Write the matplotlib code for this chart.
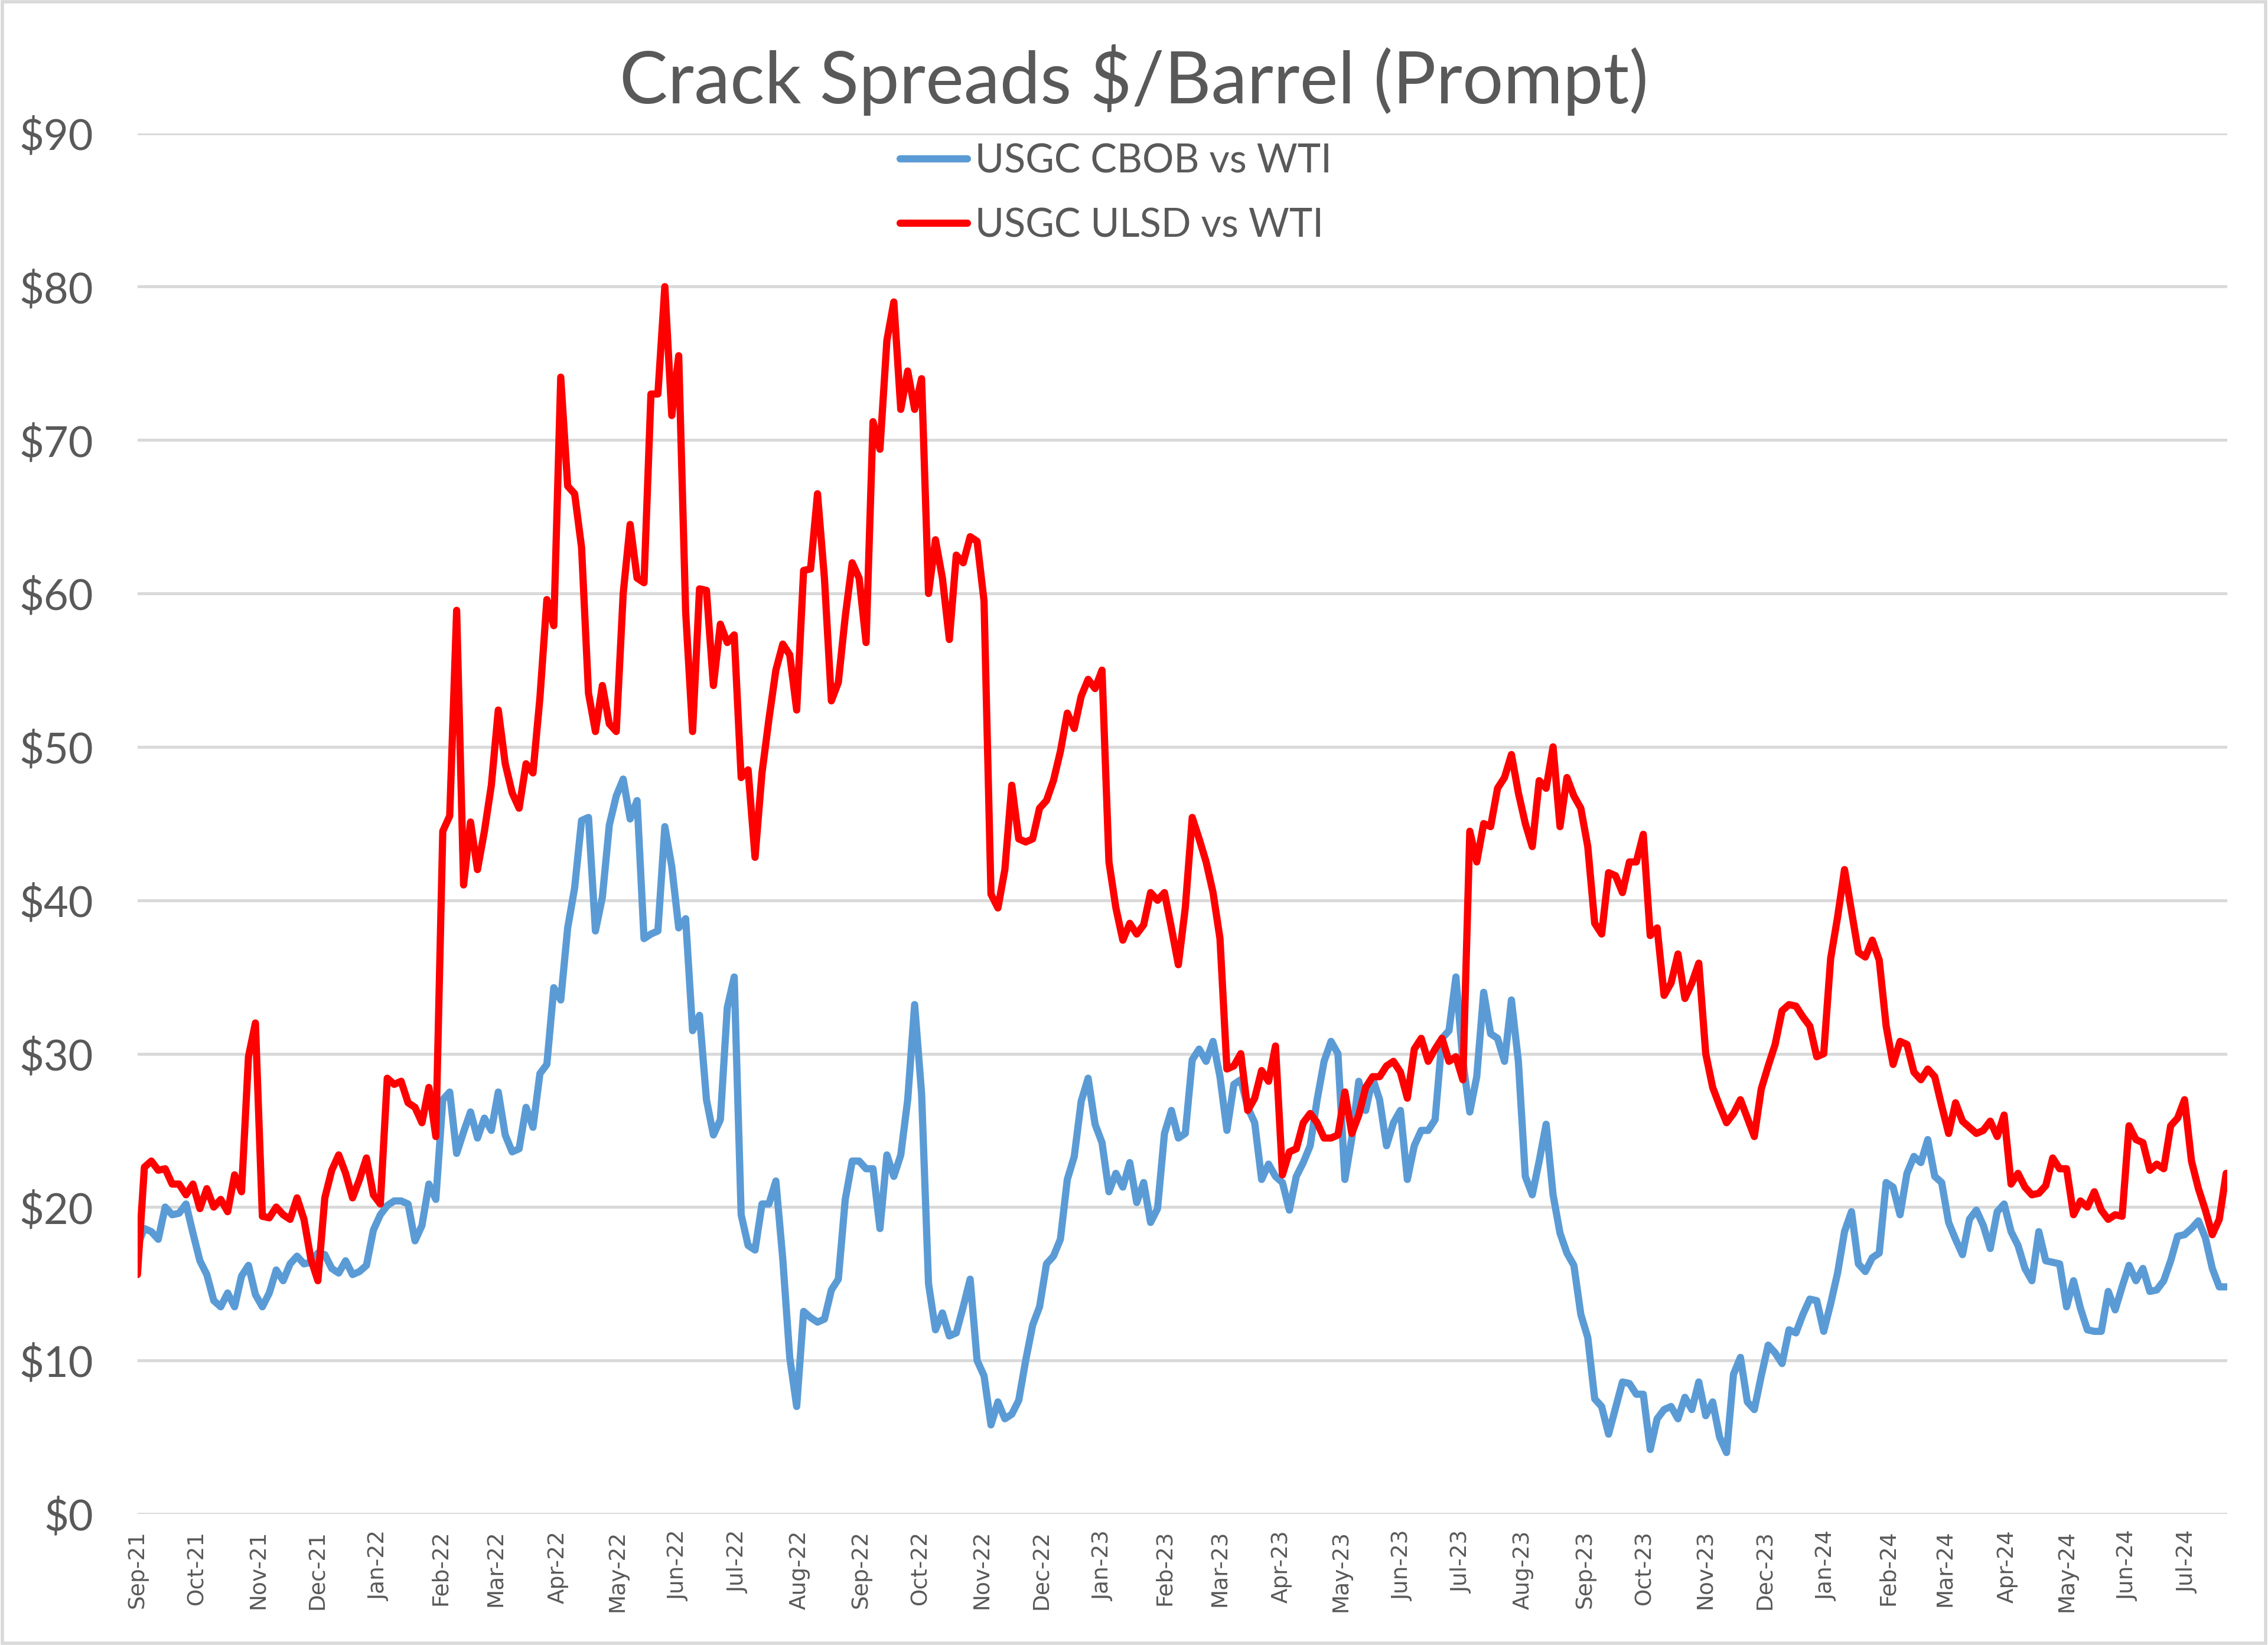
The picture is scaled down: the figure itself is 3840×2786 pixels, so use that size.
import pandas as pd
import matplotlib
matplotlib.use("Agg")
import matplotlib.pyplot as plt
import matplotlib.dates as mdates
from matplotlib.patches import Rectangle

# half-weekly samples, Sep-21 .. Jul-24
dates = pd.date_range("2021-09-01", periods=302, freq="84h")

cbob = [
    17.5, 18.6, 18.4, 17.9, 20.0, 19.5, 19.6, 20.2, 18.3, 16.5,   # Sep-21
    15.6, 13.9, 13.5, 14.4, 13.5, 15.5, 16.2, 14.3, 13.5, 14.4,
    15.9, 15.2, 16.3, 16.8, 16.3, 16.4, 17.0, 16.9, 16.0, 15.7,
    16.5, 15.6, 15.8, 16.2, 18.5, 19.5, 20.1, 20.4, 20.4, 20.2,   # Jan-22
    17.8, 18.8, 21.5, 20.5, 27.0, 27.5, 23.5, 24.9, 26.2, 24.5,
    25.8, 25.0, 27.5, 24.7, 23.6, 23.8, 26.5, 25.2, 28.7, 29.3,
    34.3, 33.5, 38.2, 40.8, 45.2, 45.4, 38.0, 40.2, 44.9, 46.8,   # Apr-22
    47.9, 45.3, 46.5, 37.5, 37.8, 38.0, 44.8, 42.2, 38.2, 38.8,
    31.5, 32.5, 27.0, 24.7, 25.7, 33.0, 35.0, 19.5, 17.5, 17.2,
    20.2, 20.2, 21.7, 16.6, 10.2, 7.0, 13.2, 12.8, 12.5, 12.7,    # Aug-22
    14.6, 15.3, 20.5, 23.0, 23.0, 22.5, 22.5, 18.6, 23.4, 22.0,
    23.4, 27.0, 33.2, 27.4, 15.0, 12.0, 13.1, 11.6, 11.8, 13.5,
    15.3, 10.0, 9.0, 5.8, 7.3, 6.2, 6.5, 7.4, 10.0, 12.3,         # Nov-22
    13.5, 16.3, 16.8, 17.9, 21.8, 23.3, 26.9, 28.4, 25.4, 24.2,
    21.0, 22.2, 21.3, 22.9, 20.3, 21.6, 19.0, 19.9, 24.8, 26.3,
    24.5, 24.8, 29.6, 30.3, 29.5, 30.8, 28.5, 25.0, 28.0, 28.3,   # Mar-23
    26.5, 25.5, 21.8, 22.8, 22.0, 21.6, 19.8, 22.0, 22.9, 24.0,
    27.0, 29.5, 30.8, 30.0, 21.8, 24.5, 28.2, 26.3, 28.4, 27.0,
    24.0, 25.5, 26.3, 21.8, 24.0, 25.0, 25.0, 25.7, 31.0, 31.5,   # Jun-23
    35.0, 29.5, 26.2, 28.5, 34.0, 31.3, 31.0, 29.5, 33.5, 29.5,
    22.0, 20.8, 23.0, 25.4, 20.8, 18.3, 17.0, 16.2, 13.0, 11.5,
    7.5, 7.0, 5.2, 6.9, 8.6, 8.5, 7.8, 7.8, 4.2, 6.2,             # Sep-23
    6.8, 7.0, 6.2, 7.6, 6.8, 8.6, 6.4, 7.3, 5.0, 4.0,
    9.1, 10.2, 7.3, 6.8, 9.0, 11.0, 10.5, 9.8, 12.0, 11.8,
    13.0, 14.0, 13.9, 11.9, 13.7, 15.7, 18.4, 19.7, 16.3, 15.8,   # Dec-23
    16.7, 17.0, 21.6, 21.3, 19.5, 22.2, 23.3, 22.9, 24.4, 22.0,
    21.6, 19.0, 17.9, 16.9, 19.2, 19.8, 18.8, 17.3, 19.7, 20.2,
    18.4, 17.5, 16.0, 15.2, 18.4, 16.5, 16.4, 16.3, 13.5, 15.2,   # Apr-24
    13.4, 12.0, 11.9, 11.9, 14.5, 13.3, 14.8, 16.2, 15.2, 16.0,
    14.5, 14.6, 15.2, 16.5, 18.1, 18.2, 18.6, 19.1, 18.0, 16.0,
    14.8, 14.8,
]

ulsd = [
    15.6, 22.6, 23.0, 22.4, 22.5, 21.5, 21.5, 20.8, 21.5, 19.9,   # Sep-21
    21.2, 20.0, 20.5, 19.7, 22.1, 21.0, 29.8, 32.0, 19.4, 19.3,
    20.0, 19.5, 19.2, 20.6, 19.2, 16.6, 15.2, 20.6, 22.4, 23.4,
    22.2, 20.6, 21.8, 23.2, 20.8, 20.2, 28.4, 28.0, 28.2, 26.8,   # Jan-22
    26.5, 25.5, 27.8, 24.6, 44.5, 45.5, 58.9, 41.0, 45.1, 42.0,
    44.5, 47.5, 52.4, 48.9, 47.0, 46.0, 48.9, 48.3, 53.2, 59.6,
    57.9, 74.1, 67.0, 66.5, 63.0, 53.5, 51.0, 54.0, 51.5, 51.0,   # Apr-22
    60.0, 64.5, 61.0, 60.7, 73.0, 73.0, 80.0, 71.6, 75.5, 58.8,
    51.0, 60.3, 60.2, 54.0, 58.0, 56.8, 57.3, 48.0, 48.5, 42.8,
    48.3, 51.8, 55.0, 56.7, 56.0, 52.4, 61.5, 61.6, 66.5, 61.0,   # Aug-22
    53.0, 54.2, 58.5, 62.0, 61.0, 56.8, 71.2, 69.4, 76.5, 79.0,
    72.0, 74.5, 72.0, 74.0, 60.0, 63.5, 61.0, 57.0, 62.5, 62.0,
    63.7, 63.4, 59.5, 40.4, 39.5, 42.0, 47.5, 44.0, 43.8, 44.0,   # Nov-22
    46.0, 46.5, 47.8, 49.7, 52.2, 51.2, 53.3, 54.4, 53.8, 55.0,
    42.5, 39.5, 37.4, 38.5, 37.8, 38.4, 40.5, 40.0, 40.5, 38.2,
    35.8, 39.5, 45.4, 44.0, 42.5, 40.5, 37.5, 29.0, 29.2, 30.0,   # Mar-23
    26.3, 27.1, 28.9, 28.2, 30.5, 22.1, 23.6, 23.8, 25.5, 26.1,
    25.5, 24.5, 24.5, 24.7, 27.5, 24.8, 26.0, 27.8, 28.5, 28.5,
    29.2, 29.5, 28.8, 27.1, 30.3, 31.0, 29.5, 30.3, 31.0, 29.5,   # Jun-23
    29.8, 28.3, 44.5, 42.5, 45.0, 44.8, 47.3, 48.0, 49.5, 47.0,
    45.0, 43.5, 47.8, 47.3, 50.0, 44.8, 48.0, 46.8, 46.0, 43.5,
    38.5, 37.8, 41.8, 41.6, 40.5, 42.5, 42.5, 44.3, 37.7, 38.2,   # Sep-23
    33.8, 34.6, 36.5, 33.6, 34.6, 35.9, 30.0, 27.8, 26.6, 25.5,
    26.1, 27.0, 25.8, 24.6, 27.7, 29.2, 30.6, 32.8, 33.2, 33.1,
    32.4, 31.8, 29.8, 30.0, 36.2, 38.9, 42.0, 39.3, 36.6, 36.3,   # Dec-23
    37.4, 36.1, 31.8, 29.3, 30.8, 30.6, 28.8, 28.3, 29.0, 28.5,
    26.6, 24.8, 26.8, 25.6, 25.2, 24.8, 25.0, 25.6, 24.6, 26.0,
    21.5, 22.2, 21.3, 20.8, 20.9, 21.4, 23.2, 22.5, 22.5, 19.5,   # Apr-24
    20.4, 20.0, 21.0, 19.8, 19.2, 19.5, 19.4, 25.3, 24.4, 24.2,
    22.4, 22.8, 22.5, 25.3, 25.8, 27.0, 23.0, 21.2, 19.8, 18.2,
    19.2, 22.2,
]

series_names = ["USGC CBOB vs WTI", "USGC ULSD vs WTI"]
series_colors = ["#5B9BD5", "#FF0000"]
y_ticks = list(range(0, 100, 10))

text_color = "#595959"
grid_color = "#D9D9D9"

fig = plt.figure(figsize=(19.2, 13.93), dpi=200)
fig.patch.set_facecolor("white")
ax = fig.add_axes([0.0606, 0.0797, 0.9214, 0.8393])

for vals, name, col in zip([cbob, ulsd], series_names, series_colors):
    ax.plot(dates, vals, color=col, lw=4.4, label=name,
            solid_joinstyle="round", solid_capstyle="round")

ax.set_ylim(0, 90)
ax.set_xlim(pd.Timestamp("2021-09-01"), pd.Timestamp("2024-07-21"))
ax.set_yticks(y_ticks)
ax.set_yticklabels([f"${v}" for v in y_ticks], family="Lato",
                   fontsize=26, color=text_color)
ax.yaxis.grid(True, color=grid_color, lw=1.8)
ax.set_axisbelow(True)

ax.xaxis.set_major_locator(mdates.MonthLocator())
ax.xaxis.set_major_formatter(mdates.DateFormatter("%b-%y"))
for lbl in ax.get_xticklabels():
    lbl.set_rotation(90)
    lbl.set_fontsize(13.5)
    lbl.set_color(text_color)
    lbl.set_family("DejaVu Sans")

ax.tick_params(axis="both", length=0)
ax.tick_params(axis="y", pad=27)
ax.tick_params(axis="x", pad=10)
for s in ax.spines.values():
    s.set_visible(False)

fig.text(0.5, 0.9515, "Crack Spreads $/Barrel (Prompt)", ha="center",
         va="center", family="Lato", fontsize=44, color=text_color)

leg = ax.legend(loc="upper left", bbox_to_anchor=(0.397, 0.913),
                bbox_transform=fig.transFigure, frameon=False,
                prop={"family": "Lato", "size": 24}, handlelength=1.7,
                handletextpad=0.2, labelspacing=0.7, borderpad=0,
                borderaxespad=0)
for t in leg.get_texts():
    t.set_color(text_color)

fig.patches.append(Rectangle((0.001, 0.001), 0.998, 0.998,
                             transform=fig.transFigure, fill=False,
                             edgecolor=grid_color, lw=2.0))

fig.savefig("out.png", dpi=200, facecolor="white")
